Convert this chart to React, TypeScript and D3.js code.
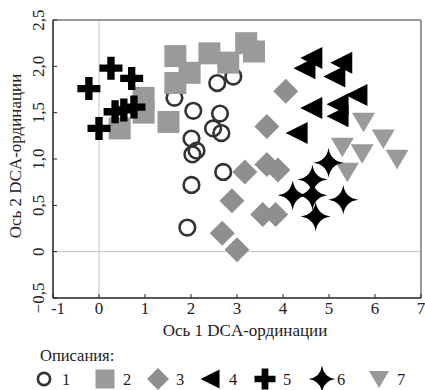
import React from 'react';
import * as d3 from 'd3';

// Описания 1..7, coordinates on DCA axes 1 and 2
const group1 = [
  [1.64, 1.66], [2.05, 1.52], [2.57, 1.82], [2.92, 1.89], [2.63, 1.49], [2.48, 1.33],
  [2.66, 1.28], [2.01, 1.22], [2.03, 1.05], [2.12, 1.09], [2.7, 0.86], [2.01, 0.72], [1.92, 0.26],
];
const group2 = [
  [1.66, 2.11], [1.66, 1.82], [1.97, 1.93], [2.4, 2.14], [2.81, 2.04], [3.2, 2.25],
  [3.37, 2.16], [1.51, 1.4], [0.97, 1.66], [0.97, 1.5], [0.45, 1.33],
];
const group3 = [
  [4.06, 1.73], [3.65, 1.35], [3.17, 0.86], [3.65, 0.94], [3.89, 0.88], [2.89, 0.55],
  [3.56, 0.4], [3.84, 0.4], [2.68, 0.2], [3.0, 0.02],
];
const group4 = [
  [4.64, 2.09], [4.49, 1.98], [5.29, 2.04], [5.14, 1.89], [5.62, 1.69], [4.64, 1.55],
  [5.21, 1.59], [5.21, 1.46], [4.32, 1.28],
];
const group5 = [
  [-0.22, 1.76], [0.26, 1.98], [0.71, 1.87], [0.35, 1.51], [0.54, 1.53], [0.76, 1.56], [0.0, 1.33],
];
const group6 = [
  [4.99, 0.96], [4.64, 0.78], [4.21, 0.61], [4.64, 0.61], [5.31, 0.56], [4.71, 0.38],
];
const group7 = [
  [5.75, 1.4], [6.18, 1.22], [5.29, 1.13], [5.72, 1.06], [6.48, 1.0], [5.4, 0.86],
];

const xTicks = [-1, 0, 1, 2, 3, 4, 5, 6, 7];
const yTicks = [-0.5, 0, 0.5, 1, 1.5, 2, 2.5];
const legendLabels = ['1', '2', '3', '4', '5', '6', '7'];

const BLACK = '#000';
const GREY = '#9a9a9a';
const DIAMOND = '#8f8f8f';

// marker path builders, centred on 0,0
const shapes: Record<number, (s: number) => string> = {
  2: s => `M${-s / 2},${-s / 2}h${s}v${s}h${-s}Z`,
  3: s => `M0,${-s / 2}L${s / 2},0L0,${s / 2}L${-s / 2},0Z`,
  4: s => `M${-s * 0.55},0L${s * 0.45},${-s / 2}L${s * 0.45},${s / 2}Z`,
  5: s => {
    const a = s / 2, t = s * 0.16;
    return `M${-t},${-a}h${2 * t}v${a - t}h${a - t}v${2 * t}h${t - a}v${a - t}h${-2 * t}v${t - a}h${t - a}v${-2 * t}h${a - t}Z`;
  },
  6: s => {
    const a = s / 2, b = s * 0.06;
    return `M0,${-a}Q${b},${-b} ${a},0Q${b},${b} 0,${a}Q${-b},${b} ${-a},0Q${-b},${-b} 0,${-a}Z`;
  },
  7: s => `M${-s / 2},${-s * 0.4}h${s}L0,${s * 0.45}Z`,
};

const Marker = ({ g, x, y, s }: { g: number; x: number; y: number; s: number }) => {
  if (g === 1) {
    return <circle cx={x} cy={y} r={s * 0.34} fill="none" stroke="#333" strokeWidth={2.6} />;
  }
  const fill = g === 3 ? DIAMOND : g === 2 || g === 7 ? GREY : BLACK;
  return <path transform={`translate(${x},${y})`} d={shapes[g](s)} fill={fill} />;
};

const sizes: Record<number, number> = { 1: 23, 2: 22, 3: 25, 4: 22, 5: 23, 6: 30, 7: 23 };

export default function App() {
  document.body.style.margin = '0';
  const left = 53, right = 421, top = 20, bottom = 298;
  const x = d3.scaleLinear().domain([-1, 7]).range([left, right]);
  const y = d3.scaleLinear().domain([-0.5, 2.5]).range([bottom, top]);
  const yFmt = (v: number) => (v === 0 ? '0' : d3.format('.1f')(v).replace('.', ','));

  const groups: [number, number[][]][] = [
    [1, group1], [2, group2], [3, group3], [7, group7], [4, group4], [5, group5], [6, group6],
  ];
  const font = '"Liberation Serif", "Times New Roman", serif';
  const legendX = [44, 105, 158, 211, 265, 322, 379];
  const legendSizes: Record<number, number> = { 1: 18, 2: 19, 3: 22, 4: 19, 5: 21, 6: 27, 7: 20 };

  return (
    <svg width={425} height={390} style={{ display: 'block', fontFamily: font }}>
      <rect width={425} height={390} fill="#fff" />
      {/* zero lines */}
      <line x1={x(0)} x2={x(0)} y1={top} y2={bottom} stroke="#c4c4c4" strokeWidth={1} />
      <line x1={left} x2={right} y1={y(0)} y2={y(0)} stroke="#c4c4c4" strokeWidth={1} />

      {groups.map(([g, pts]) =>
        pts.map((p, i) => <Marker key={`${g}-${i}`} g={g} x={x(p[0])} y={y(p[1])} s={sizes[g]} />)
      )}

      {/* frame */}
      <line x1={left} x2={right} y1={top} y2={top} stroke="#777" strokeWidth={1.5} />
      <line x1={right} x2={right} y1={top} y2={bottom} stroke="#777" strokeWidth={1.5} />
      <line x1={left} x2={left} y1={top} y2={bottom} stroke="#222" strokeWidth={1.5} />
      <line x1={left} x2={right} y1={bottom} y2={bottom} stroke="#222" strokeWidth={1.5} />

      {xTicks.map(t => (
        <g key={`x${t}`}>
          <line x1={x(t)} x2={x(t)} y1={bottom} y2={bottom - 4} stroke="#222" />
          <text x={x(t) + (t === -1 ? 5 : 0)} y={bottom + 16} textAnchor="middle" fontSize={17} fill="#222">
            {String(t)}
          </text>
        </g>
      ))}
      {yTicks.map(t => (
        <g key={`y${t}`}>
          <line x1={left} x2={left + 4} y1={y(t)} y2={y(t)} stroke="#222" />
          <text
            transform={`translate(${left - 9},${y(t)}) rotate(-90)`}
            textAnchor="middle"
            fontSize={17}
            fill="#222"
          >
            {yFmt(t)}
          </text>
        </g>
      ))}

      <text x={(left + right) / 2 + 8} y={336} textAnchor="middle" fontSize={17} fill="#222">
        Ось 1 DCA-ординации
      </text>
      <text
        transform={`translate(21,${(top + bottom) / 2 - 3}) rotate(-90)`}
        textAnchor="middle"
        fontSize={17}
        fill="#222"
      >
        Ось 2 DCA-ординации
      </text>

      <text x={40} y={361} fontSize={16.5} fill="#222">Описания:</text>
      {legendLabels.map((lab, i) => {
        const g = i + 1;
        return (
          <g key={lab}>
            <Marker g={g} x={legendX[i]} y={379} s={legendSizes[g]} />
            <text x={legendX[i] + (g === 6 ? 15 : 18)} y={385} fontSize={16.5} fill="#222">{lab}</text>
          </g>
        );
      })}
    </svg>
  );
}
